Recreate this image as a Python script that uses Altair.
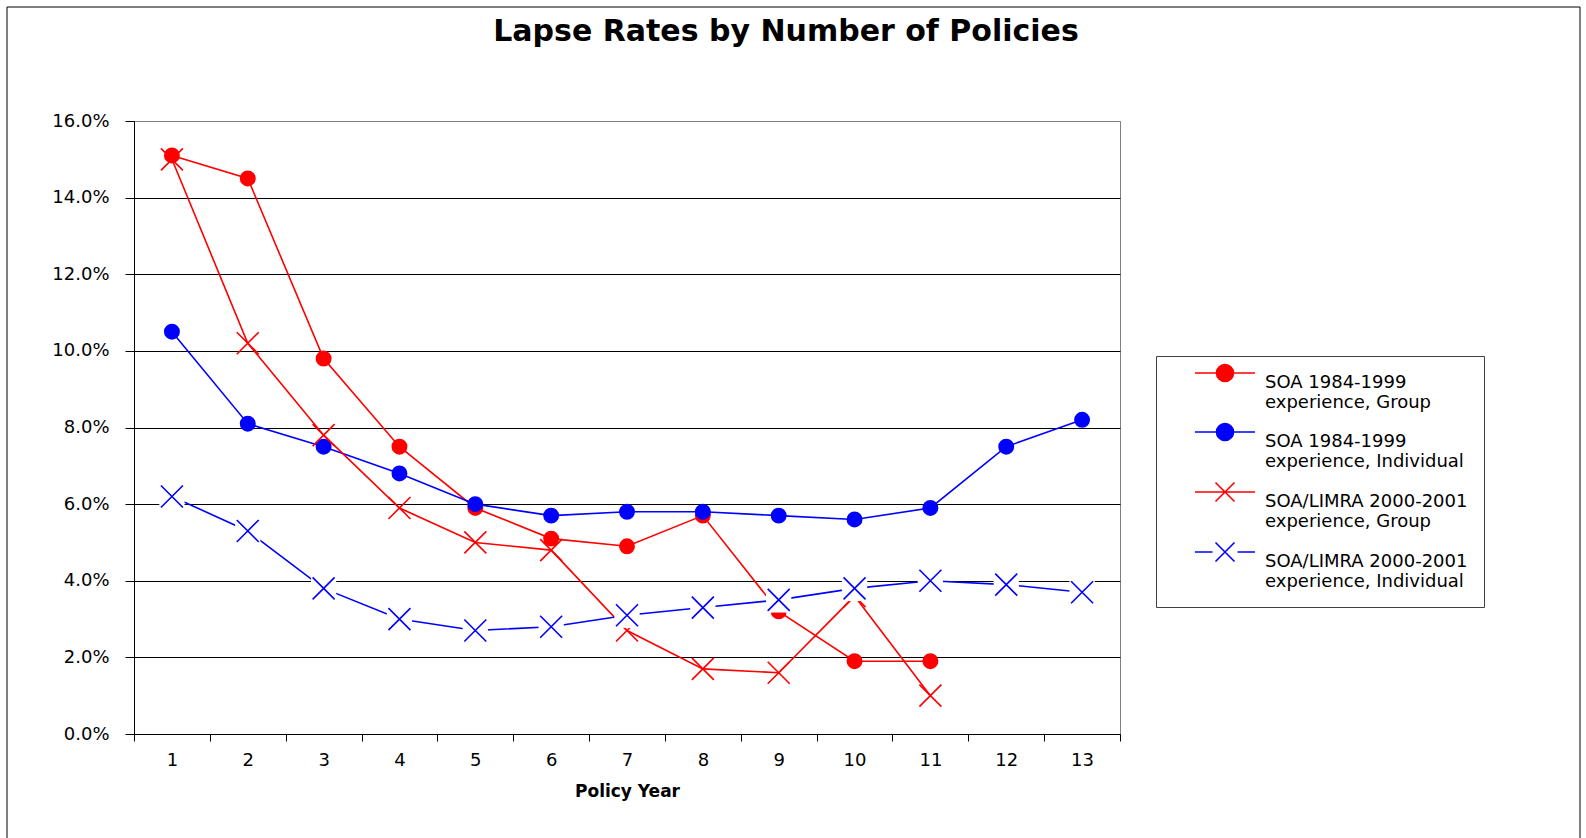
import altair as alt
import pandas as pd

years = list(range(1, 14))
series_names = [
    "SOA 1984-1999 experience, Group",
    "SOA 1984-1999 experience, Individual",
    "SOA/LIMRA 2000-2001 experience, Group",
    "SOA/LIMRA 2000-2001 experience, Individual",
]
series_colors = ["#FF0000", "#0000FF", "#FF0000", "#0000FF"]
# lapse rates in percent, by policy year
soa_group = [15.1, 14.5, 9.8, 7.5, 5.9, 5.1, 4.9, 5.7, 3.2, 1.9, 1.9]
soa_individual = [10.5, 8.1, 7.5, 6.8, 6.0, 5.7, 5.8, 5.8, 5.7, 5.6, 5.9, 7.5, 8.2]
limra_group = [15.0, 10.2, 7.8, 5.9, 5.0, 4.8, 2.7, 1.7, 1.6, 3.6, 1.0]
limra_individual = [6.2, 5.3, 3.8, 3.0, 2.7, 2.8, 3.1, 3.3, 3.5, 3.8, 4.0, 3.9, 3.7]
y_ticks = [0, 0.02, 0.04, 0.06, 0.08, 0.10, 0.12, 0.14, 0.16]

rows = []
for name, vals in zip(series_names, [soa_group, soa_individual, limra_group, limra_individual]):
    for yr, v in zip(years, vals):
        rows.append({"year": yr, "rate": v / 100.0, "series": name})
df = pd.DataFrame(rows)

FONT = "DejaVu Sans"
X_PATH = "M-1,-1L1,1M-1,1L1,-1"

dy = -1.0
C_PATH = (f"M-3,{dy}H3M0.85,{dy}A0.85,0.85 0 1,1 -0.85,{dy}"
          f"A0.85,0.85 0 1,1 0.85,{dy}Z")
XG_PATH = (f"M-3,{dy}H3M-0.95,{dy-0.95}L0.95,{dy+0.95}"
           f"M-0.95,{dy+0.95}L0.95,{dy-0.95}")
XI_PATH = (f"M-3,{dy}H-1.25M1.25,{dy}H3M-0.95,{dy-0.95}L0.95,{dy+0.95}"
           f"M-0.95,{dy+0.95}L0.95,{dy-0.95}")
legend_shapes = [C_PATH, C_PATH, XG_PATH, XI_PATH]

color_scale = alt.Scale(domain=series_names, range=series_colors)

legend = alt.Legend(
    title=None,
    orient="none",
    legendX=1022,
    legendY=235,
    padding=16,
    strokeColor="#404040",
    fillColor="white",
    labelFont=FONT,
    labelFontSize=18,
    labelColor="black",
    labelBaseline="middle",
    labelLimit=400,
    symbolSize=400,
    symbolOffset=42,
    labelOffset=29,
    rowPadding=8,
    symbolStrokeWidth=1.6,
    symbolOpacity=1,
    labelExpr="[slice(datum.label, 0, indexof(datum.label, ' experience')), "
              "slice(datum.label, indexof(datum.label, ' experience') + 1)]",
)

x_enc = alt.X(
    "year:O",
    scale=alt.Scale(type="band", paddingInner=0, paddingOuter=0),
    axis=alt.Axis(
        title="Policy Year",
        labelAngle=0,
        tickBand="extent",
        tickSize=7,
        tickColor="black",
        domainColor="black",
        labelFont=FONT,
        labelFontSize=18,
        labelColor="black",
        labelPadding=10,
        titleFont=FONT,
        titleFontSize=17,
        titleFontWeight="bold",
        titleColor="black",
        titlePadding=14,
        grid=False,
    ),
)
y_enc = alt.Y(
    "rate:Q",
    scale=alt.Scale(domain=[0, 0.16], nice=False, zero=True),
    axis=alt.Axis(
        title=None,
        values=y_ticks,
        format=".1%",
        tickSize=9,
        tickColor="black",
        domainColor="black",
        labelFont=FONT,
        labelFontSize=18,
        labelColor="black",
        labelPadding=16,
        grid=True,
        gridColor={"condition": {"test": "datum.value >= 0.159", "value": "#808080"},
                   "value": "black"},
        gridWidth=1,
    ),
)

color_enc = alt.Color("series:N", scale=color_scale, legend=legend, sort=series_names)

base = alt.Chart(df).encode(x=x_enc, y=y_enc, color=color_enc)

legend_layer = alt.Chart(df).transform_filter("false").mark_point(
    filled=True, opacity=1
).encode(
    x=x_enc,
    y=y_enc,
    color=color_enc,
    stroke=alt.Stroke("series:N", scale=color_scale, legend=legend, sort=series_names),
    shape=alt.Shape("series:N", scale=alt.Scale(domain=series_names, range=legend_shapes),
                    legend=legend, sort=series_names),
)

lines = base.mark_line(strokeWidth=1.6)

circles = base.transform_filter(
    "indexof(datum.series, 'LIMRA') < 0"
).mark_point(shape="circle", filled=True, size=254, opacity=1)

red_crosses = base.transform_filter(
    "indexof(datum.series, 'LIMRA') >= 0 && indexof(datum.series, 'Individual') < 0"
).mark_point(shape=X_PATH, filled=False, size=484, strokeWidth=1.6, opacity=1)

ind_filter = "indexof(datum.series, 'LIMRA') >= 0 && indexof(datum.series, 'Individual') >= 0"
halo = alt.Chart(df).transform_filter(ind_filter).mark_point(
    shape="square", filled=True, size=640, opacity=1, color="white"
).encode(x=x_enc, y=y_enc)

blue_crosses = base.transform_filter(ind_filter).mark_point(
    shape=X_PATH, filled=False, size=484, strokeWidth=1.6, opacity=1
)

frame = alt.Chart(pd.DataFrame({"a": [0]})).mark_rect(
    fill=None, stroke="black", strokeWidth=1
).encode(
    x=alt.value(-127), x2=alt.value(1446), y=alt.value(-114), y2=alt.value(735)
)

chart = alt.layer(
    legend_layer, frame, lines, circles, red_crosses, halo, blue_crosses
).properties(
    width=986,
    height=613,
    title=alt.TitleParams(
        "Lapse Rates by Number of Policies",
        font=FONT,
        fontSize=30,
        fontWeight="bold",
        color="black",
        anchor="middle",
        frame="group",
        dx=159,
        offset=-64,
        baseline="alphabetic",
    ),
    autosize=alt.AutoSizeParams(type="none"),
    padding={"left": 134, "top": 121, "right": 466, "bottom": 104},
    background="white",
).configure_view(stroke="#808080", strokeWidth=1)

chart.save("out.html", embed_options={"renderer": "svg", "actions": False})
